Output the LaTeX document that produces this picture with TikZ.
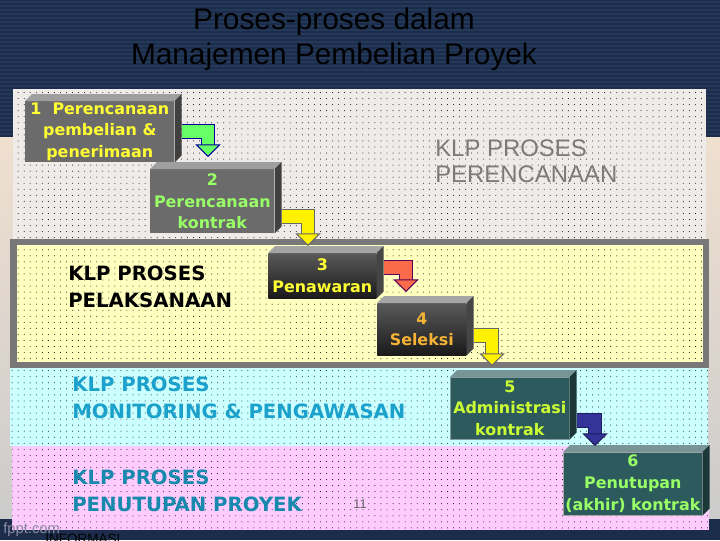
\documentclass[tikz,border=0pt]{standalone}
\usepackage{fontspec}
\setmainfont{Liberation Sans}
\newfontfamily\boxfont{DejaVu Sans}
\usetikzlibrary{arrows.meta,calc,patterns.meta}

\definecolor{navy}{HTML}{1B2D4A}
\definecolor{navyline}{HTML}{24385A}
\definecolor{planbg}{HTML}{EFEBE9}
\definecolor{execbg}{HTML}{FFFFC0}
\definecolor{monbg}{HTML}{CCFFFF}
\definecolor{closebg}{HTML}{FFCCFF}
\definecolor{boxgray}{HTML}{6B6B6B}
\definecolor{boxdark}{HTML}{737373}
\definecolor{boxteal}{HTML}{2D5B5D}
\definecolor{txtyellow}{HTML}{FFFF33}
\definecolor{txtgreen}{HTML}{99FF66}
\definecolor{txtorange}{HTML}{F5B335}
\definecolor{txtlime}{HTML}{CCFF33}
\definecolor{klpblue}{HTML}{1BA1CB}
\definecolor{arrgreen}{HTML}{66FF66}
\definecolor{arrred}{HTML}{F96B4B}
\definecolor{arrblue}{HTML}{333399}

\def\px{0.025cm}

\tikzset{
  dotted area/.style={fill=#1, postaction={pattern={Dots[distance=4.3pt,radius=0.35pt]}, pattern color=black}},
  procbox/.style={anchor=north west, inner sep=0pt, align=center,
    font=\boxfont\bfseries\fontsize{11.3}{15.5}\selectfont},
  klp/.style={anchor=north west, inner sep=0pt, align=left,
    font=\boxfont\bfseries\fontsize{14}{18.8}\selectfont},
  flow/.style 2 args={draw=#2, line width=0.7pt, double=#1, double distance=9.2pt,
    -{Triangle[width=18pt,length=9pt,fill=#1,color=#2,line width=0.7pt]}},
}

\begin{document}
\begin{tikzpicture}[x=\px,y=-\px]
        \useasboundingbox (0,0) rectangle (720,540);

        % Slide background
        \fill[navy] (0,0) rectangle (720,540);
        \foreach \y in {2,6,...,134}
            \draw[navyline, line width=0.9pt] (0,\y) -- (720,\y);
        \shade[top color=brown!25!white, middle color=white, bottom color=black!20] (0,137) rectangle (720,518);

        % Title
        \node[align=center, anchor=north, inner sep=0pt, font=\fontsize{21.2}{24.8}\selectfont] (title) at (334,8)
            {Proses-proses dalam\\Manajemen Pembelian Proyek};

        % Draw the groups
        \path[dotted area=planbg] (13,89) rectangle (706,239);
        \fill[black!53] (10,239) rectangle (709,368);
        \path[dotted area=execbg] (17,245) rectangle (703,362);
        \path[dotted area=monbg] (10,368) rectangle (708,446);
        \path[dotted area=closebg] (12,446) rectangle (709,530);

        % Group labels
        \node[klp, font=\fontsize{17}{18.4}\selectfont, text=black!52] (plan) at (435,140) {KLP PROSES\\PERENCANAAN};
        \node[klp, text=black] (exec) at (68,266) {KLP PROSES\\PELAKSANAAN};
        \node[klp, text=klpblue] (mon) at (72,377) {KLP PROSES\\MONITORING \& PENGAWASAN};
        \node[klp, text=klpblue!85!black] (close) at (72,470) {KLP PROSES\\PENUTUPAN PROYEK};
        \node[font=\fontsize{9}{10}\selectfont, text=black!60] (page) at (360,504) {11};
        \node[anchor=base west, inner sep=0pt, font=\fontsize{10.5}{12}\selectfont, text=blue!20!black!45] (fppt) at (3,533) {fppt.com};
        \node[anchor=base west, inner sep=0pt, font=\fontsize{9.6}{11}\selectfont, text=black] (info) at (45,543) {INFORMASI};

        % Define process boxes
        \node[procbox, fill=boxgray, text=txtyellow, minimum width=149*\px, minimum height=61*\px] (p1) at (25,101)
            {1~~Perencanaan\\pembelian \&\\penerimaan};
        \node[procbox, fill=boxgray, text=txtgreen, minimum width=124*\px, minimum height=64*\px] (p2) at (150,169)
            {2\\Perencanaan\\kontrak};
        \node[procbox, top color=black!65, bottom color=black!90, text=txtyellow, minimum width=108*\px, minimum height=45*\px] (p3) at (268,253)
            {3\\Penawaran};
        \node[procbox, top color=black!65, bottom color=black!90, text=txtorange, minimum width=89*\px, minimum height=52*\px] (p4) at (377,303)
            {4\\Seleksi};
        \node[procbox, fill=boxteal, draw=boxteal!60!white, text=txtlime, minimum width=119*\px, minimum height=62*\px] (p5) at (450,377)
            {5\\Administrasi\\kontrak};
        \node[procbox, fill=boxteal, draw=black!35, text=txtgreen, minimum width=139*\px, minimum height=63*\px] (p6) at (563,452)
            {6\\Penutupan\\(akhir) kontrak};

        % Box sides
        \foreach \i/\c in {1/boxgray,2/boxgray,3/boxdark,4/boxdark,5/boxteal,6/boxteal} {
            \fill[\c!65!white] (p\i.north west) -- ++(7,-7) -- ($(p\i.north east)+(7,-7)$) -- (p\i.north east) -- cycle;
            \fill[\c!60!black] (p\i.north east) -- ++(7,-7) -- ($(p\i.south east)+(7,-7)$) -- (p\i.south east) -- cycle;
        }

        % Draw the steps
        \draw[flow={arrgreen}{blue!60!black}] ($(p1.east)+(7,0)$) -| ($(p2.north west)+(58,-12)$);
        \draw[flow={yellow}{black!60}] ($(p2.east)+(7,15)$) -| ($(p3.north west)+(40,-7)$);
        \draw[flow={arrred}{violet!70!black}] ($(p3.east)+(7,-8)$) -| ($(p4.north west)+(29,-11)$);
        \draw[flow={yellow}{black!60}] ($(p4.east)+(7,6)$) -| ($(p5.north west)+(42,-11)$);
        \draw[flow={arrblue}{arrblue!60!black}] ($(p5.east)+(7,12)$) -| ($(p6.north west)+(32,-6)$);
\end{tikzpicture}
\end{document}
